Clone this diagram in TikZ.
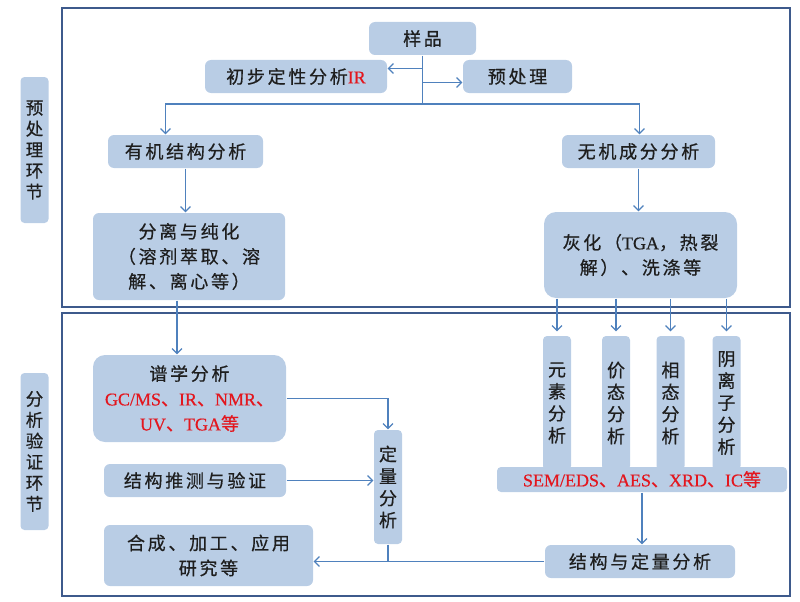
\documentclass[tikz,border=0pt]{standalone}
\usepackage{fontspec}
\setmainfont{Noto Sans CJK SC}[LetterSpace=15,FakeBold=0.6]
\newfontfamily\lat{Liberation Serif}[FakeBold=0.5]
\usetikzlibrary{arrows.meta,positioning}
\definecolor{boxblue}{HTML}{B9CDE5}
\definecolor{linkblue}{HTML}{4F81BD}
\definecolor{framblue}{HTML}{3E5A8C}
\definecolor{hired}{HTML}{E3161E}
\definecolor{txt}{HTML}{1E1E1E}
\newcommand{\rd}[1]{\textcolor{hired}{#1}}

\begin{document}
\begin{tikzpicture}[x=1pt,y=-1pt,->,>={Straight Barb[length=5pt,width=10pt]},
		line width=1.2pt,draw=linkblue,
		blk/.style={fill=boxblue,draw=none,rounded corners=6pt,inner sep=0pt,text=txt,
			align=center,font=\fontsize{18}{25}\selectfont},
		vbox/.style={blk,rounded corners=4pt,minimum width=28,font=\fontsize{18}{22}\selectfont},
		frame/.style={-,draw=framblue,line width=2pt}]
		\useasboundingbox (0,0) rectangle (800,602);
		
		% frames
		\draw[frame] (62,8) rectangle (790,307);
		\draw[frame] (62,313) rectangle (790,596);
		
		\node[vbox,minimum height=146,font=\fontsize{17.5}{21}\selectfont] (lab1) at (34.5,150) {预\\处\\理\\环\\节};
		\node[vbox,minimum height=157,font=\fontsize{17.5}{21}\selectfont] (lab2) at (34.5,451.5) {分\\析\\验\\证\\环\\节};
		
		\node[blk,minimum width=107,minimum height=33] (yp)  at (422.5,38.5) {样品};
		\node[blk,minimum width=182,minimum height=33] (cb)  at (296,76.5)   {初步定性分析\rd{\lat IR}};
		\node[blk,minimum width=109,minimum height=33] (ycl) at (517.5,76.5) {预处理};
		\node[blk,minimum width=155,minimum height=33] (yj)  at (185.5,151.5) {有机结构分析};
		\node[blk,minimum width=153,minimum height=33] (wj)  at (638.5,151.5) {无机成分分析};
		\node[blk,minimum width=192,minimum height=87] (fl)  at (189,256.5)  {分离与纯化\\（溶剂萃取、溶\\解、离心等）};
		\node[blk,minimum width=193,minimum height=86,rounded corners=12pt] (hh) at (640.5,255) {灰化（{\lat TGA}，热裂\\解）、洗涤等};
		
		\node[vbox,minimum height=134] (ys) at (557,403)   {元\\素\\分\\析};
		\node[vbox,minimum height=134] (jt) at (616,403)   {价\\态\\分\\析};
		\node[vbox,minimum height=134] (xt) at (670.5,403) {相\\态\\分\\析};
		\node[vbox,minimum height=134] (yl) at (726.5,403) {阴\\离\\子\\分\\析};
		\node[blk,minimum width=290,minimum height=25,rounded corners=4pt] (sem) at (642,479.5)
		{\rd{{\lat SEM/EDS}、{\lat AES}、{\lat XRD}、{\lat IC}等}};
		
		\node[blk,minimum width=193,minimum height=87,rounded corners=12pt] (pu) at (189.5,398.5)
		{谱学分析\\\rd{{\lat GC/MS}、{\lat IR}、{\lat NMR}、}\\\rd{{\lat UV}、{\lat TGA}等}};
		\node[blk,minimum width=182,minimum height=33] (tc) at (195,480.5) {结构推测与验证};
		\node[vbox,minimum height=114] (dl) at (388,487) {定\\量\\分\\析};
		\node[blk,minimum width=209,minimum height=61] (hc) at (208.5,555.5) {合成、加工、应用\\研究等};
		\node[blk,minimum width=190,minimum height=33] (jd) at (640,561.5) {结构与定量分析};
		
		\coordinate (jn) at (422.5,104);
		
		\draw[-] (yp.south) -- (jn);
		\draw ([yshift=8pt]cb.east -| yp.south) -- ([yshift=8pt]cb.east);
		\draw ([yshift=-6pt]ycl.west -| yp.south) -- ([yshift=-6pt]ycl.west);
		\draw (jn) -| ([xshift=-20pt]yj.north);
		\draw (jn) -| ([xshift=1pt]wj.north);
		\draw (yj.south) -- (yj.south |- fl.north);
		\draw (wj.south) -- (wj.south |- hh.north);
		\draw ([xshift=-12pt]fl.south) -- ([xshift=-12pt]fl.south |- pu.north);
		\foreach \n in {ys,jt,xt,yl}
		\draw (hh.south -| \n) -- ([yshift=4pt]\n.north);
		\draw (sem.south) -- (sem.south |- jd.north);
		\draw (pu.east) -| (dl.north);
		\draw (tc.east) -- (dl.west |- tc.east);
		\draw[-] (dl.south) -- (dl.south |- jd.west);
		\draw (jd.west) -- (hc.east |- jd.west);
\end{tikzpicture}
\end{document}
